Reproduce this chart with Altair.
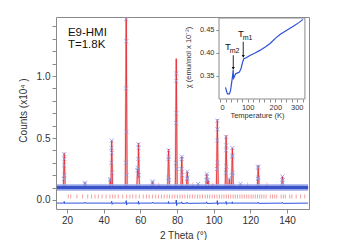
import altair as alt
import pandas as pd

# ---------------- main diffraction pattern ----------------
calc_x = [14.5, 18.0, 18.5, 19.0, 29.3, 29.8, 30.3, 43.2, 43.6, 44.0, 44.4, 44.9,
          51.8, 52.3, 52.8, 58.1, 58.5, 58.75, 59.0, 59.5, 66.2, 66.7, 67.2,
          69.6, 70.0, 70.4, 74.9, 75.4, 75.9, 79.1, 79.6, 80.1, 82.1, 82.6, 83.1,
          85.1, 85.6, 86.1, 88.1, 88.5, 88.9, 91.0, 91.5, 92.0,
          95.7, 96.2, 96.6, 97.0, 97.5, 99.1, 99.5, 99.9, 101.5, 102.0, 102.5,
          106.3, 106.8, 107.3, 108.1, 108.6, 109.1, 109.7, 110.2, 110.7,
          114.1, 114.6, 115.1, 118.1, 118.5, 118.9, 123.8, 124.3, 124.8,
          128.6, 129.0, 129.4, 137.0, 137.5, 138.0, 151.5]
calc_y = [0.10, 0.10, 0.38, 0.10, 0.10, 0.14, 0.10, 0.10, 0.17, 0.12, 0.48, 0.10,
          0.10, 1.47, 0.10, 0.10, 0.25, 0.18, 0.46, 0.10, 0.10, 0.15, 0.10,
          0.10, 0.12, 0.10, 0.10, 0.41, 0.10, 0.10, 1.14, 0.10, 0.10, 0.35, 0.10,
          0.10, 0.23, 0.10, 0.10, 0.12, 0.10, 0.10, 0.13, 0.10,
          0.10, 0.21, 0.13, 0.16, 0.10, 0.10, 0.13, 0.10, 0.10, 0.65, 0.10,
          0.10, 0.52, 0.10, 0.10, 0.17, 0.10, 0.10, 0.42, 0.10,
          0.10, 0.13, 0.10, 0.10, 0.12, 0.10, 0.10, 0.28, 0.10,
          0.10, 0.12, 0.10, 0.10, 0.19, 0.10, 0.10]

obs_x = [18.35, 18.45, 18.5, 18.55, 18.65,
         29.7, 29.85,
         43.55, 43.65, 44.2, 44.3, 44.4, 44.5, 44.6,
         52.15, 52.25, 52.3, 52.35, 52.45, 52.5,
         58.45, 58.55, 58.9, 59.0, 59.05, 59.15,
         66.65, 66.75,
         75.25, 75.35, 75.4, 75.5, 75.6,
         79.45, 79.55, 79.6, 79.65, 79.7, 79.8,
         82.5, 82.6, 82.65, 82.75,
         85.5, 85.6, 85.7,
         91.5,
         96.1, 96.2, 96.3, 97.0,
         101.85, 101.95, 102.0, 102.05, 102.15,
         106.65, 106.75, 106.8, 106.9, 107.0,
         108.6,
         110.05, 110.15, 110.2, 110.3, 110.4,
         114.6,
         124.15, 124.25, 124.3, 124.4,
         137.4, 137.5, 137.6]
obs_y = [0.17, 0.28, 0.37, 0.33, 0.20,
         0.13, 0.14,
         0.16, 0.17, 0.30, 0.42, 0.48, 0.38, 0.22,
         0.30, 0.90, 1.46, 1.28, 0.55, 0.20,
         0.24, 0.26, 0.33, 0.45, 0.42, 0.20,
         0.14, 0.15,
         0.18, 0.33, 0.40, 0.35, 0.16,
         0.30, 0.62, 0.96, 1.02, 0.70, 0.25,
         0.25, 0.33, 0.35, 0.20,
         0.17, 0.23, 0.18,
         0.13,
         0.16, 0.21, 0.19, 0.16,
         0.25, 0.48, 0.64, 0.57, 0.30,
         0.22, 0.40, 0.51, 0.44, 0.27,
         0.17,
         0.20, 0.35, 0.42, 0.36, 0.22,
         0.13,
         0.17, 0.27, 0.26, 0.18,
         0.14, 0.19, 0.16]

bg_x = [14.5, 151.5]
bg_y = [0.10, 0.10]

diff_x = [14.5, 18.2, 18.5, 18.7, 19.0, 29.6, 29.8, 30.0, 44.1, 44.4, 44.6, 45.0,
          52.1, 52.3, 52.5, 52.8, 58.8, 59.0, 59.2, 59.5, 66.5, 66.7, 66.9,
          75.2, 75.4, 75.6, 76.0, 79.4, 79.6, 79.8, 80.1, 82.4, 82.6, 82.8,
          85.4, 85.6, 85.8, 96.0, 96.2, 96.4, 101.8, 102.0, 102.2, 102.5,
          106.6, 106.8, 107.0, 107.3, 110.0, 110.2, 110.4, 110.7,
          124.1, 124.3, 124.5, 137.3, 137.5, 137.7, 151.5]
diff_y = [-0.025, -0.025, -0.012, -0.030, -0.025, -0.025, -0.018, -0.025, -0.025, -0.010, -0.035, -0.025,
          -0.025, -0.005, -0.040, -0.025, -0.025, -0.010, -0.035, -0.025, -0.025, -0.018, -0.025,
          -0.025, -0.012, -0.032, -0.025, -0.025, 0.000, -0.045, -0.025, -0.025, -0.015, -0.028,
          -0.025, -0.018, -0.027, -0.025, -0.015, -0.028, -0.025, -0.005, -0.038, -0.025,
          -0.025, -0.012, -0.035, -0.025, -0.025, -0.015, -0.030, -0.025,
          -0.025, -0.018, -0.027, -0.025, -0.020, -0.027, -0.025]

refl_pos = [20.7, 22.0, 25.4, 28.5, 31.3, 33.4, 35.3, 37.1, 39.1, 41.3, 43.4, 44.9, 46.2,
            48.0, 50.4, 52.5, 54.3, 55.8, 57.6, 59.4, 61.6, 63.3, 64.8, 66.6, 68.4, 69.9,
            71.5, 73.0, 74.6, 75.9, 77.4, 78.8, 80.2, 81.6, 82.9, 84.3, 85.7, 87.0, 88.4,
            89.8, 91.2, 92.5, 93.9, 95.4, 96.6, 97.8, 99.2, 100.5, 101.8, 103.1, 104.4,
            105.6, 106.9, 108.1, 109.3, 110.6, 111.8, 113.0, 114.3, 115.5, 116.7, 118.0,
            119.2, 120.4, 121.5, 122.7, 123.9, 125.1, 126.2, 127.4, 128.6, 130.9, 132.1,
            133.3, 134.4, 136.8, 138.0, 139.1, 141.5, 142.7, 145.0, 147.4, 149.7]
refl_level = 0.028

label_text = ["E9-HMI", "T=1.8K"]
label_x = [20.5, 20.5]
label_y = [1.323, 1.223]

# ---------------- inset susceptibility ----------------
temp_K = [20, 24, 27, 34, 38, 42, 46, 47.5, 49, 52, 56, 62, 70, 76, 82, 86, 95, 108,
          125, 144, 165, 181, 200, 218, 240, 265, 285, 300]
chi = [0.325, 0.316, 0.311, 0.311, 0.318, 0.335, 0.352, 0.363, 0.345, 0.348, 0.354,
       0.356, 0.358, 0.366, 0.380, 0.387, 0.389, 0.394, 0.399, 0.405, 0.413, 0.420,
       0.431, 0.440, 0.448, 0.457, 0.465, 0.472]

frame_T = [-3.6, 307]
frame_chi = [0.300, 0.475]

arrow_T = [48, 84]
arrow_top = [0.3945, 0.4236]
arrow_tip = [0.366, 0.392]

tlabel_T = [18, 65]
tlabel_chi = [0.4056, 0.4338]
sub_text = ["m2", "m1"]
sub_T = [35, 82]
sub_chi = [0.399, 0.428]

FONT = "Liberation Sans"
GRAY = "#8a8a8a"
TXT = "#333333"

# ---------- main encodings ----------
x_axis = alt.Axis(values=[20, 40, 60, 80, 100, 120, 140], title="2 Theta (°)", grid=False,
                  domain=False, tickSize=4, tickColor=GRAY, labelFontSize=10, labelColor=TXT,
                  labelPadding=2, titleFontSize=10, titleFontWeight="normal", titleColor=TXT,
                  titleX=127, titleY=26, titleBaseline="middle", titleAnchor="middle")
y_axis = alt.Axis(values=[round(0.1 * i, 1) for i in range(15)], title="Counts (x10⁴ )",
                  grid=False, domain=False, tickSize=4, tickColor=GRAY, labelFontSize=10,
                  labelColor=TXT, labelPadding=2,
                  labelExpr="abs(datum.value*2 - round(datum.value*2)) < 0.001 ? format(datum.value, '.1f') : ''",
                  titleFontSize=10, titleFontWeight="normal", titleColor=TXT,
                  titleX=-33, titleY=93, titleBaseline="middle", titleAngle=-90)
xs = alt.Scale(domain=[14, 152], nice=False, zero=False)
ys = alt.Scale(domain=[-0.0726, 1.476], nice=False, zero=False)


def X(f="x"):
    return alt.X(f"{f}:Q", scale=xs, axis=x_axis)


def Y(f="y"):
    return alt.Y(f"{f}:Q", scale=ys, axis=y_axis)


calc_df = pd.DataFrame({"x": calc_x, "y": calc_y})
obs_df = pd.DataFrame({"x": obs_x, "y": obs_y})
bg_df = pd.DataFrame({"x": bg_x, "y": bg_y})
diff_df = pd.DataFrame({"x": diff_x, "y": diff_y})
refl_df = pd.DataFrame({"x": refl_pos, "y": [refl_level] * len(refl_pos)})
lab_df = pd.DataFrame({"x": label_x, "y": label_y, "t": label_text})

calc_wide = alt.Chart(calc_df).mark_line(color="#f7b8b8", strokeWidth=2, opacity=0.8,
                                         clip=True).encode(x=X(), y=Y(), order="x:Q")
calc_line = alt.Chart(calc_df).mark_line(color="#e2232b", strokeWidth=0.8, clip=True).encode(
    x=X(), y=Y(), order="x:Q")
band_light = alt.Chart(bg_df).mark_line(color="#a3aeee", strokeWidth=7, opacity=0.8).encode(
    x=X(), y=Y())
band_dark = alt.Chart(bg_df).mark_line(color="#2443c4", strokeWidth=3.5, opacity=0.85).encode(
    x=X(), y=Y())
obs = alt.Chart(obs_df).mark_point(shape="M-1,-1L1,1M-1,1L1,-1", filled=False, size=16,
                                    strokeWidth=0.9, color="#8797e8", opacity=0.85, clip=True).encode(
    x=X(), y=Y())
refl = alt.Chart(refl_df).mark_tick(orient="vertical", size=4, thickness=1, color="#f08a8a",
                                     opacity=0.8).encode(x=X(), y=Y())
diff = alt.Chart(diff_df).mark_line(color="#2f52e0", strokeWidth=1).encode(
    x=X(), y=Y(), order="x:Q")
labels = alt.Chart(lab_df).mark_text(align="left", baseline="alphabetic", font=FONT,
                                     fontSize=11.5, color="#111").encode(
    x=X(), y=Y(), text="t:N")

main = alt.layer(calc_wide, calc_line, band_light, band_dark, obs, refl, diff, labels)

# ---------- inset encodings ----------
ix_axis = alt.Axis(values=list(range(0, 301, 20)), orient="bottom", offset=-110,
                   labelExpr="datum.value % 100 == 0 ? datum.label : ''",
                   title="Temperature (K)", grid=False, domain=False, tickSize=3,
                   tickColor=GRAY, labelFontSize=7.5, labelColor=TXT, labelPadding=1,
                   titleFontSize=7.5, titleFontWeight="normal", titleColor=TXT,
                   titleX=201, titleY=16, titleBaseline="middle")
iy_axis = alt.Axis(values=[0.35, 0.40, 0.45], orient="left", offset=-163, format=".2f",
                   title="χ (emu/mol x 10⁻²)", grid=False, domain=False, tickSize=3,
                   tickColor=GRAY, labelFontSize=7.5, labelColor=TXT, labelPadding=2,
                   titleFontSize=7.5, titleFontWeight="normal", titleColor=TXT,
                   titleX=-31, titleY=40, titleBaseline="middle", titleAngle=-90)
ixs = alt.Scale(domain=[0, 300], range=[164, 247], nice=False, zero=False)
iys = alt.Scale(domain=[0.300, 0.475], range=[82, 1], nice=False, zero=False)


def IX(f="T"):
    return alt.X(f"{f}:Q", scale=ixs, axis=ix_axis)


def IY(f="chi"):
    return alt.Y(f"{f}:Q", scale=iys, axis=iy_axis)


frame_df = pd.DataFrame({"T": [frame_T[0]], "T2": [frame_T[1]],
                         "chi": [frame_chi[0]], "chi2": [frame_chi[1]]})
curve_df = pd.DataFrame({"T": temp_K, "chi": chi})
arrow_df = pd.DataFrame({"T": arrow_T, "chi": arrow_top, "chi2": arrow_tip})
tip_df = pd.DataFrame({"T": arrow_T, "chi": arrow_tip})
tl_df = pd.DataFrame({"T": tlabel_T, "chi": tlabel_chi, "t": ["T", "T"]})
sub_df = pd.DataFrame({"T": sub_T, "chi": sub_chi, "t": sub_text})

frame = alt.Chart(frame_df).mark_rect(fill="white", stroke=GRAY, strokeWidth=1).encode(
    x=IX(), x2="T2:Q", y=IY(), y2="chi2:Q")
curve = alt.Chart(curve_df).mark_line(color="#2c4fd8", strokeWidth=1.2).encode(
    x=IX(), y=IY(), order="T:Q")
arrows = alt.Chart(arrow_df).mark_rule(color="#111", strokeWidth=0.9).encode(
    x=IX(), y=IY(), y2="chi2:Q")
tips = alt.Chart(tip_df).mark_point(shape="triangle-down", filled=True, size=10,
                                    color="#111", opacity=1).encode(x=IX(), y=IY())
tl = alt.Chart(tl_df).mark_text(align="left", baseline="alphabetic", font=FONT,
                                fontSize=9.5, color="#111").encode(x=IX(), y=IY(), text="t:N")
sub = alt.Chart(sub_df).mark_text(align="left", baseline="alphabetic", font=FONT,
                                  fontSize=7, color="#111").encode(x=IX(), y=IY(), text="t:N")

inset = alt.layer(frame, curve, arrows, tips, tl, sub)

chart = alt.layer(main, inset).resolve_scale(x="independent", y="independent").properties(
    width=253, height=192,
    autosize=alt.AutoSizeParams(type="none"),
    padding={"left": 48, "top": 9, "right": 30, "bottom": 31},
).configure(font=FONT).configure_view(stroke=GRAY, strokeWidth=1)

chart.save("out.html", embed_options={"renderer": "svg", "actions": False})
